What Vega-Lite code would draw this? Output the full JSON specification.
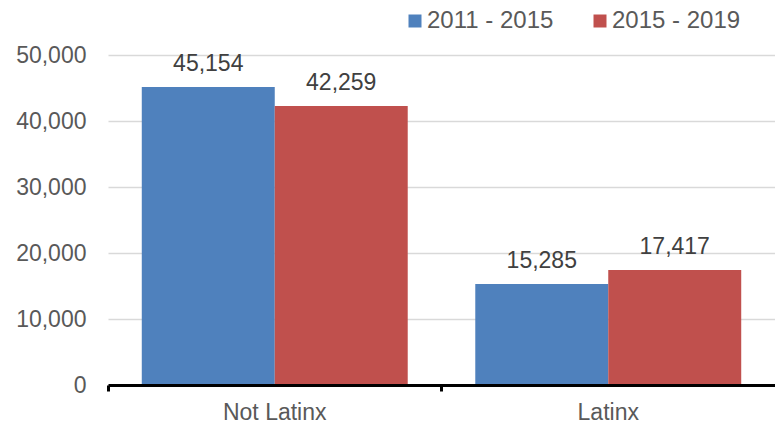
{
  "$schema": "https://vega.github.io/schema/vega-lite/v6.json",
  "autosize": {"type": "none"},
  "width": 667,
  "height": 330,
  "padding": {"left": 108, "top": 55, "right": 0, "bottom": 43},
  "background": "white",
  "config": {
    "view": {"stroke": null},
    "font": "Liberation Sans",
    "axis": {"labelFont": "Liberation Sans", "labelFontSize": 23, "labelColor": "#595959"},
    "legend": {"labelFont": "Liberation Sans", "labelFontSize": 24, "labelColor": "#595959"}
  },
  "data": {
    "values": [
      {"category": "Not Latinx", "period": "2011 - 2015", "value": 45154},
      {"category": "Not Latinx", "period": "2015 - 2019", "value": 42259},
      {"category": "Latinx", "period": "2011 - 2015", "value": 15285},
      {"category": "Latinx", "period": "2015 - 2019", "value": 17417}
    ]
  },
  "encoding": {
    "x": {
      "field": "category",
      "type": "nominal",
      "sort": ["Not Latinx", "Latinx"],
      "scale": {"paddingInner": 0, "paddingOuter": 0},
      "axis": {
        "title": null,
        "labelAngle": 0,
        "domainColor": "#000000",
        "domainWidth": 3,
        "ticks": true,
        "tickColor": "#000000",
        "tickWidth": 3,
        "tickSize": 6,
        "bandPosition": 0,
        "labelPadding": 10,
        "zindex": 1
      }
    },
    "xOffset": {
      "field": "period",
      "type": "nominal",
      "sort": ["2011 - 2015", "2015 - 2019"],
      "scale": {"paddingInner": 0, "paddingOuter": 0.254}
    },
    "y": {
      "field": "value",
      "type": "quantitative",
      "scale": {"domain": [0, 50000], "nice": false},
      "axis": {
        "title": null,
        "values": [0, 10000, 20000, 30000, 40000, 50000],
        "format": ",d",
        "domain": false,
        "ticks": false,
        "labelPadding": 22,
        "gridColor": "#d9d9d9",
        "gridWidth": 1.5
      }
    }
  },
  "layer": [
    {
      "mark": {"type": "bar"},
      "encoding": {
        "color": {
          "field": "period",
          "type": "nominal",
          "sort": ["2011 - 2015", "2015 - 2019"],
          "scale": {"range": ["#4F81BD", "#C0504D"]},
          "legend": {
            "title": null,
            "orient": "none",
            "direction": "horizontal",
            "legendX": 295,
            "legendY": -46,
            "symbolType": "square",
            "symbolSize": 169,
            "symbolStrokeWidth": 0,
            "symbolOpacity": 1,
            "labelOffset": 0,
            "columnPadding": 34
          }
        }
      }
    },
    {
      "mark": {"type": "text", "dy": -16, "baseline": "alphabetic", "fontSize": 23, "color": "#404040", "font": "Liberation Sans"},
      "encoding": {
        "text": {"field": "value", "type": "quantitative", "format": ",d"}
      }
    }
  ]
}
